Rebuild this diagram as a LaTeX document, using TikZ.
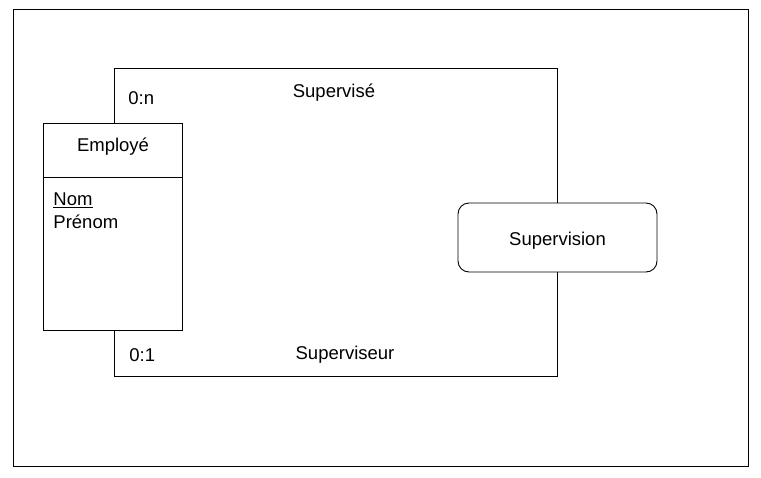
\documentclass[tikz,border=0pt]{standalone}
\usepackage{fontspec}
\setmainfont{Liberation Sans}
\begin{document}
\begin{tikzpicture}[x=1pt,y=-1pt,line width=0.9pt,
  every node/.style={font=\fontsize{18.5}{22}\selectfont, inner sep=0pt},
  entity/.style={draw, rectangle, minimum width=139pt, minimum height=207pt},
  assoc/.style={draw, rectangle, rounded corners=11pt, minimum width=199pt, minimum height=69pt, text height=20pt, text depth=4pt},
  lbl/.style={anchor=center}]
\useasboundingbox (0,0) rectangle (761,477);
\draw (13,9) rectangle (748,466);
% entity
\node[entity] (emp) at (112.5,226.5) {};
\draw (emp.west |- 0,177) -- (emp.east |- 0,177);
\node[lbl] (empname) at (113,147) {Employé};
\node[anchor=west] (nom) at (53,200) {\underline{Nom}};
\node[anchor=west] (prenom) at (53,222) {Prénom};
% association
\node[assoc] (sup) at (557.5,237.5) {Supervision};
% connectors
\coordinate (ctop) at (114,68);
\coordinate (cbot) at (114,376);
\draw (emp.north -| ctop) -- (ctop) -| (sup.north);
\draw (emp.south -| cbot) -- (cbot) -| (sup.south);
% labels
\node[anchor=west] (c0n) at (128,98) {0:n};
\node[lbl] (lsup) at (334,93) {Supervisé};
\node[anchor=west] (c01) at (129,355) {0:1};
\node[lbl] (lsupr) at (345,355) {Superviseur};
\end{tikzpicture}
\end{document}
